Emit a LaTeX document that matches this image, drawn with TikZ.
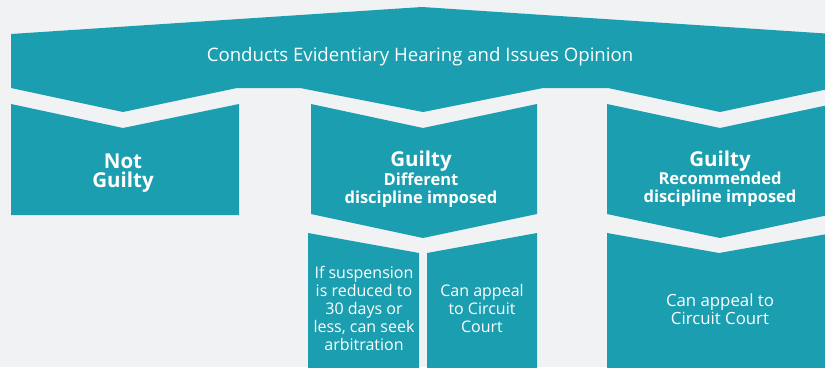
\documentclass[tikz,border=0pt]{standalone}
\usepackage{fontspec}
\setmainfont{Open Sans}
\usepackage{tikz}

\definecolor{panelcol}{HTML}{1A9EB0}
\definecolor{papercol}{HTML}{F1F2F4}

\begin{document}
\begin{tikzpicture}[x=1pt,y=-1pt]
            \tikzstyle{plate}=[fill=panelcol]
            \tikzstyle{headtext}=[text=white,inner sep=0pt,font=\fontsize{18.6}{22}\selectfont]
            \tikzstyle{titletext}=[text=white,inner sep=0pt,align=center,font=\bfseries\fontsize{20.5}{19}\selectfont]
            \tikzstyle{subtext}=[text=white,inner sep=0pt,align=center,font=\bfseries\fontsize{16.5}{18}\selectfont]
            \tikzstyle{bodytext}=[text=white,inner sep=0pt,align=center,font=\fontsize{16}{18}\selectfont]

                \useasboundingbox (0,0) rectangle (825,367);
                \fill[papercol] (0,0) rectangle (825,367);
                \clip (0,0) rectangle (825,367);

                % banner
                \fill[plate] (11,34) -- (422,7) -- (833,34) -- (833,88) -- (720,112) -- (608,88) -- (543,88)
                    -- (423,112) -- (300,88) -- (237,88) -- (123,112) -- (11,88) -- cycle;

                % outcome boxes
                \fill[plate] (11,104) -- (123,128) -- (239,104) -- (239,215) -- (11,215) -- cycle;
                \foreach \l/\c/\r in {311/423/537, 607/720/833}
                    \fill[plate] (\l,104) -- (\c,128) -- (\r,104) -- (\r,214) -- (\c,238) -- (\l,214) -- cycle;

                % follow-up boxes
                \fill[plate] (308,233) -- (419,253) -- (419,380) -- (308,380) -- cycle;
                \fill[plate] (427,253) -- (537,233) -- (537,380) -- (427,380) -- cycle;
                \fill[plate] (607,233) -- (719,253) -- (833,233) -- (833,380) -- (607,380) -- cycle;

                % base anchor of a multi-line node = last line
                \node[headtext,anchor=base] (H) at (420,61){Conducts Evidentiary Hearing and Issues Opinion};

                \node[titletext,anchor=base] (T-1) at (123,187){Not\\Guilty};
                \node[titletext,anchor=base] (T-2) at (421,166){Guilty};
                \node[subtext,anchor=base] (S-2) at (421,203){Different\\discipline imposed};
                \node[titletext,anchor=base] (T-3) at (720,166){Guilty};
                \node[subtext,anchor=base] (S-3) at (720,202){Recommended\\discipline imposed};

                \node[bodytext,anchor=base] (B-1) at (364,350){If suspension\\is reduced to\\30 days or\\less, can seek\\arbitration};
                \node[bodytext,anchor=base] (B-2) at (482,332){Can appeal\\to Circuit\\Court};
                \node[bodytext,anchor=base,font=\fontsize{16.8}{17.5}\selectfont] (B-3) at (720,324){Can appeal to\\Circuit Court};
        \end{tikzpicture}
\end{document}
